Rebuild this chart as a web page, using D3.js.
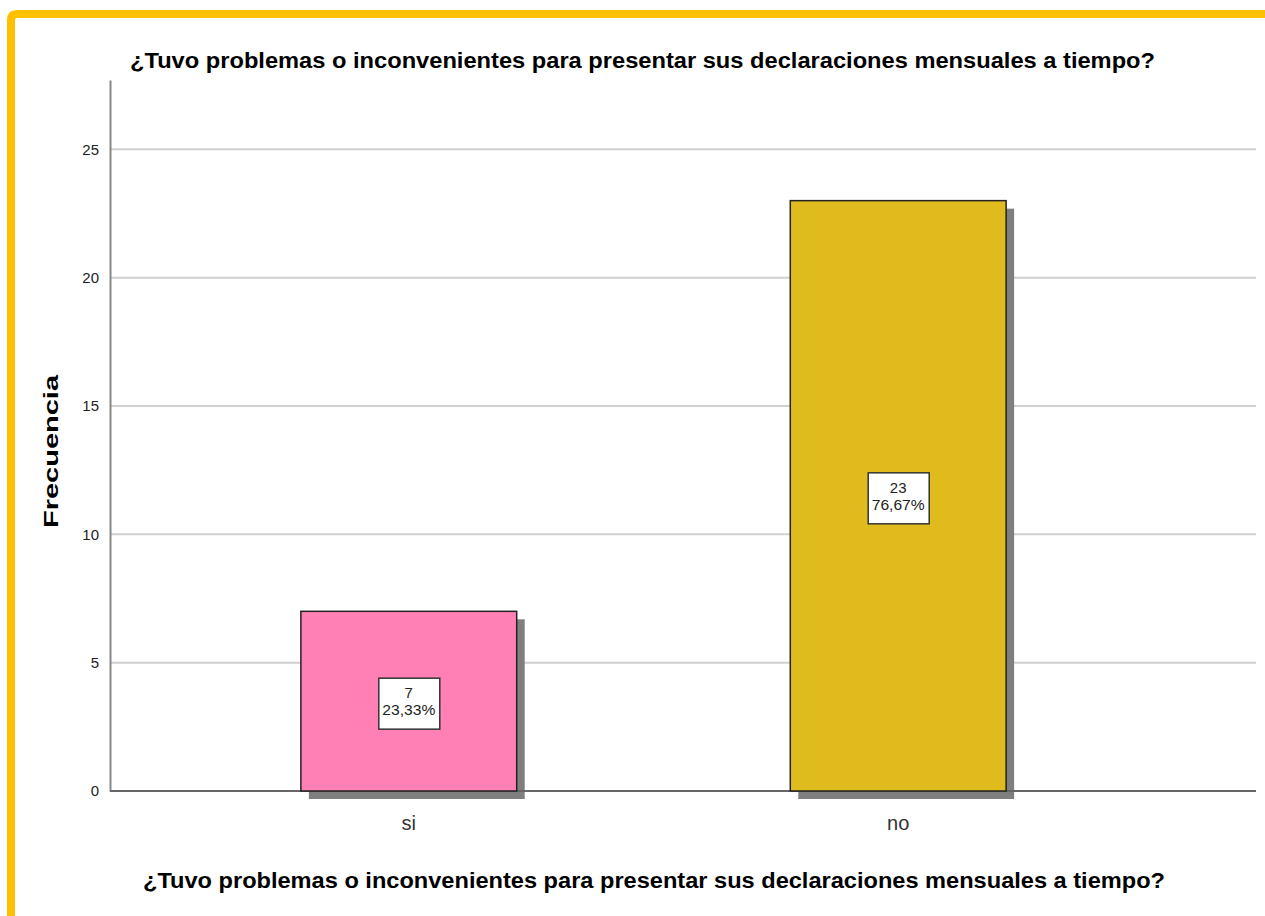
<!DOCTYPE html>
<html>
<head>
<meta charset="utf-8">
<script src="https://cdn.jsdelivr.net/npm/d3@7"></script>
<style>
  body { margin: 0; background: #fff; }
  svg { display: block; font-family: "Liberation Sans", Arial, sans-serif; }
</style>
</head>
<body>
<div id="chart"></div>
<script>
var categories = ["si", "no"];
var counts = [7, 23];
var percents = ["23,33%", "76,67%"];
var barColors = ["#ff80b4", "#e0bb1e"];
var yTicks = [0, 5, 10, 15, 20, 25];
var title = "¿Tuvo problemas o inconvenientes para presentar sus declaraciones mensuales a tiempo?";

var width = 1265, height = 916;
var margin = {left: 110, right: 9, top: 80, bottom: 125};

var svg = d3.select("#chart").append("svg")
    .attr("width", width)
    .attr("height", height);

// yellow frame, top and left
svg.append("path")
    .attr("d", "M11,916 L11,20 Q11,14 17,14 L1265,14")
    .attr("fill", "none")
    .attr("stroke", "#ffc000")
    .attr("stroke-width", 8);

var y = d3.scaleLinear()
    .domain([0, 27.7])
    .range([height - margin.bottom, margin.top]);

// band scale covers the bar slots; the right end of the plot has extra room
var x = d3.scaleBand()
    .domain(categories)
    .range([margin.left, 1197])
    .paddingInner(0.559)
    .paddingOuter(0.39);

// gridlines
svg.append("g")
    .selectAll("line")
    .data(yTicks.filter(function(d){ return d > 0; }))
    .enter()
    .append("line")
    .attr("x1", margin.left)
    .attr("x2", width - margin.right)
    .attr("y1", function(d){ return y(d); })
    .attr("y2", function(d){ return y(d); })
    .attr("stroke", "#d0d0d0")
    .attr("stroke-width", 2);

// y axis
var yAxis = svg.append("g")
    .attr("transform", "translate(" + margin.left + ",0)")
    .call(d3.axisLeft(y).tickValues(yTicks).tickSize(0).tickPadding(11));
yAxis.select(".domain").attr("stroke", "#888").attr("stroke-width", 2);
yAxis.selectAll("text")
    .attr("font-size", 15)
    .attr("fill", "#222")
    .attr("font-family", "Liberation Sans, Arial, sans-serif");

// shadows
svg.append("g")
    .selectAll("rect")
    .data(counts)
    .enter()
    .append("rect")
    .attr("x", function(d, i){ return x(categories[i]) + 8; })
    .attr("y", function(d){ return y(d) + 8; })
    .attr("width", x.bandwidth())
    .attr("height", function(d){ return y(0) - y(d); })
    .attr("fill", "#7f7f7f");

// x baseline
svg.append("line")
    .attr("x1", margin.left)
    .attr("x2", width - margin.right)
    .attr("y1", y(0))
    .attr("y2", y(0))
    .attr("stroke", "#666")
    .attr("stroke-width", 2);

// bars
svg.append("g")
    .selectAll("rect")
    .data(counts)
    .enter()
    .append("rect")
    .attr("x", function(d, i){ return x(categories[i]); })
    .attr("y", function(d){ return y(d); })
    .attr("width", x.bandwidth())
    .attr("height", function(d){ return y(0) - y(d); })
    .attr("fill", function(d, i){ return barColors[i]; })
    .attr("stroke", "#222")
    .attr("stroke-width", 1.5);

// value labels
var labels = svg.append("g")
    .selectAll("g")
    .data(counts)
    .enter()
    .append("g")
    .attr("transform", function(d, i){
        return "translate(" + (x(categories[i]) + x.bandwidth() / 2) + "," + y(d / 2) + ")";
    });
labels.append("rect")
    .attr("x", -30)
    .attr("y", -23)
    .attr("width", 61)
    .attr("height", 51)
    .attr("fill", "#fff")
    .attr("stroke", "#333")
    .attr("stroke-width", 1.5);
labels.append("text")
    .attr("text-anchor", "middle")
    .attr("y", -3)
    .attr("font-size", 15)
    .attr("fill", "#222")
    .text(function(d){ return d; });
labels.append("text")
    .attr("text-anchor", "middle")
    .attr("y", 14)
    .attr("font-size", 15)
    .attr("fill", "#222")
    .attr("textLength", 53)
    .attr("lengthAdjust", "spacingAndGlyphs")
    .text(function(d, i){ return percents[i]; });

// category labels
svg.append("g")
    .selectAll("text")
    .data(categories)
    .enter()
    .append("text")
    .attr("x", function(d){ return x(d) + x.bandwidth() / 2; })
    .attr("y", y(0) + 39)
    .attr("text-anchor", "middle")
    .attr("font-size", 20)
    .attr("fill", "#333")
    .text(function(d){ return d; });

// titles
svg.append("text")
    .attr("x", 130)
    .attr("y", 68)
    .attr("font-size", 22)
    .attr("font-weight", "bold")
    .attr("textLength", 1025)
    .attr("lengthAdjust", "spacingAndGlyphs")
    .text(title);

svg.append("text")
    .attr("x", 143)
    .attr("y", 888)
    .attr("font-size", 22)
    .attr("font-weight", "bold")
    .attr("textLength", 1022)
    .attr("lengthAdjust", "spacingAndGlyphs")
    .text(title);

// y axis title
svg.append("text")
    .attr("transform", "translate(58,528) rotate(-90)")
    .attr("font-size", 21)
    .attr("font-weight", "bold")
    .attr("textLength", 153)
    .attr("lengthAdjust", "spacingAndGlyphs")
    .text("Frecuencia");
</script>
</body>
</html>
